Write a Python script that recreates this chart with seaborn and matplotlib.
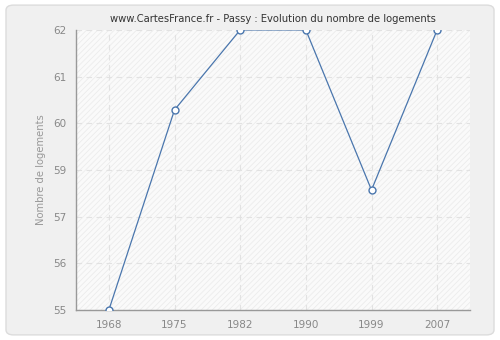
import matplotlib
matplotlib.use("Agg")
import matplotlib.pyplot as plt
import seaborn as sns
import pandas as pd
import numpy as np
from matplotlib.patches import FancyBboxPatch, Rectangle

years = ["1968", "1975", "1982", "1990", "1999", "2007"]
logements = [55, 60, 62, 62, 58, 62]
y_ticks = list(np.linspace(55, 62, 7))
y_ticklabels = ["55", "56", "57", "59", "60", "61", "62"]

sns.set_style("white")
plt.rcParams['font.family'] = ['DejaVu Sans']
plt.rcParams['hatch.linewidth'] = 0.6
plt.rcParams['hatch.color'] = '#ececec'

fig = plt.figure(figsize=(5, 3.4), dpi=100, facecolor='white')
fig.patches.append(FancyBboxPatch((0.012, 0.015), 0.976, 0.97, boxstyle="round,pad=0,rounding_size=0.015",
                                  transform=fig.transFigure, facecolor='#f0f0f0', edgecolor='#dcdcdc',
                                  linewidth=1.0, zorder=-5))
ax = fig.add_axes([0.152, 0.088, 0.788, 0.824])
ax.set_facecolor('#fafafa')
ax.add_patch(Rectangle((0, 0), 1, 1, transform=ax.transAxes, facecolor='none',
                       edgecolor='#ececec', hatch='//////', linewidth=0, zorder=0))

df = pd.DataFrame({"annee": years, "logements": logements})
sns.pointplot(data=df, x="annee", y="logements", ax=ax, color='#4a76ad',
              markers='o', markersize=5, linewidth=0.9, markerfacecolor='white',
              markeredgewidth=1.0, markeredgecolor='#4a76ad', zorder=3)

ax.set_xlim(-0.5, 5.5)
ax.set_ylim(55, 62)
ax.set_yticks(y_ticks)
ax.set_yticklabels(y_ticklabels)
ax.grid(True, color='#e2e2e2', linestyle=(0, (5, 4)), linewidth=0.8)
ax.set_axisbelow(True)
for s in ['top', 'right']:
    ax.spines[s].set_visible(False)
for s in ['left', 'bottom']:
    ax.spines[s].set_color('#999999')
    ax.spines[s].set_linewidth(1.0)
ax.tick_params(axis='both', which='both', direction='out', length=4, width=0.8,
               color='#999999', labelcolor='#888888', labelsize=7.5, pad=3)
ax.set_xlabel("")
ax.set_ylabel("Nombre de logements", color='#999999', fontsize=7.2, labelpad=5)
ax.set_title("www.CartesFrance.fr - Passy : Evolution du nombre de logements",
             fontsize=7.2, color='#333333', pad=6)

fig.savefig("out.png", dpi=100, facecolor=fig.get_facecolor())
